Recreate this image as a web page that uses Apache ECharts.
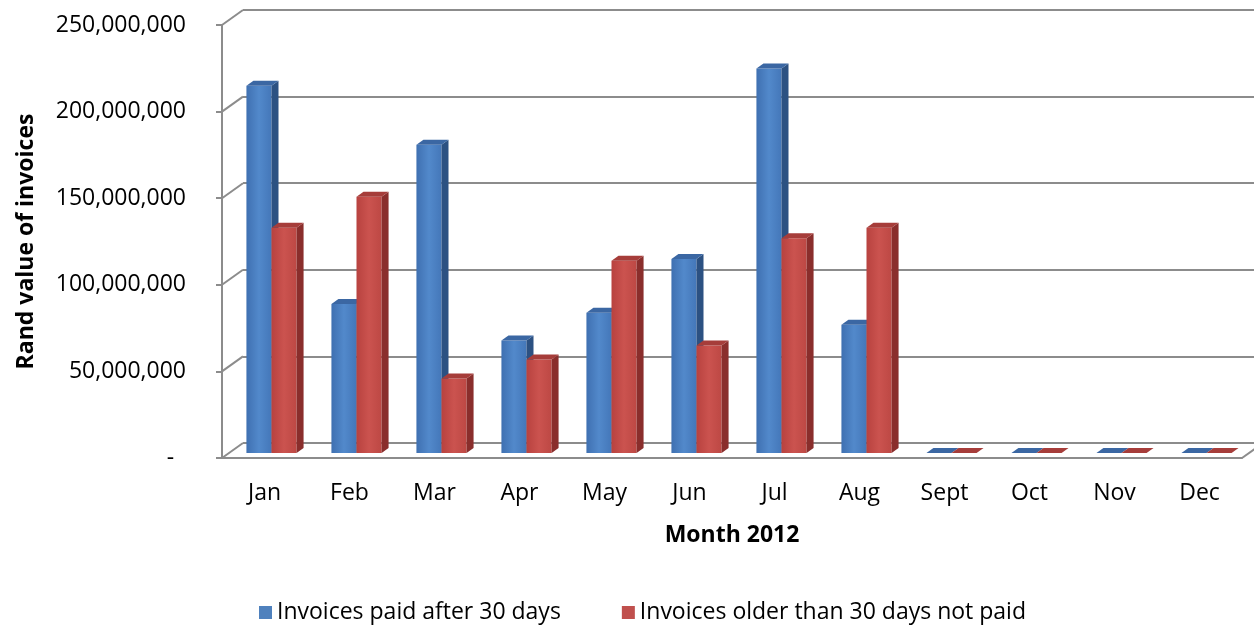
<!DOCTYPE html>
<html>
<head>
<meta charset="utf-8">
<script src="https://cdn.jsdelivr.net/npm/echarts@6/dist/echarts.min.js"></script>
<style>
  html, body { margin: 0; padding: 0; background: #fff; }
  #chart { width: 1254px; height: 628px; }
</style>
</head>
<body>
<div id="chart"></div>
<script>
var months = ['Jan', 'Feb', 'Mar', 'Apr', 'May', 'Jun', 'Jul', 'Aug', 'Sept', 'Oct', 'Nov', 'Dec'];
var paidAfter30 = [212000000, 86000000, 178000000, 65000000, 81000000, 112000000, 222000000, 74000000, 0, 0, 0, 0];
var olderNotPaid = [130000000, 148000000, 43000000, 54000000, 111000000, 62000000, 124000000, 130000000, 0, 0, 0, 0];
var yTicks = [0, 50000000, 100000000, 150000000, 200000000, 250000000];
var seriesNames = ['Invoices paid after 30 days', 'Invoices older than 30 days not paid'];

var font = 'Open Sans';
var gridColor = '#8c8c8c';
// fake 3d: offset of the back wall, and of one bar's depth
var depthX = 21, depthY = -15;
var barDX = 7, barDY = -5;

function fmt(v) {
  if (v === 0) return '-  ';
  return String(v).replace(/\B(?=(\d{3})+(?!\d))/g, ',');
}

// draws one box per month; side 0 = left bar of the pair, 1 = right bar
function boxRenderer(side, front, top, dark) {
  return function (params, api) {
    var cat = api.value(0), val = api.value(1);
    var base = api.coord([cat, 0]);
    var head = api.coord([cat, val]);
    var band = api.size([1, 0])[0];
    var w = band * 0.295;
    var x = base[0] + barDX - (side === 0 ? w : 0);
    var yb = base[1] + barDY, yt = head[1] + barDY;
    return {
      type: 'group',
      children: [
        { type: 'rect', shape: { x: x, y: yt, width: w, height: yb - yt }, style: { fill: front } },
        { type: 'polygon', shape: { points: [[x + w, yt], [x + w + barDX, yt + barDY], [x + w + barDX, yb + barDY], [x + w, yb]] }, style: { fill: dark } },
        { type: 'polygon', shape: { points: [[x, yt], [x + barDX, yt + barDY], [x + w + barDX, yt + barDY], [x + w, yt]] }, style: { fill: top } }
      ]
    };
  };
}

function grad(a, b, c) {
  return new echarts.graphic.LinearGradient(0, 0, 1, 0, [
    { offset: 0, color: a }, { offset: 0.5, color: b }, { offset: 1, color: c }
  ]);
}

var chart = echarts.init(document.getElementById('chart'));
chart.setOption({
  animation: false,
  textStyle: { fontFamily: font },
  legend: {
    data: seriesNames,
    left: 254,
    top: 596,
    icon: 'rect',
    itemWidth: 13,
    itemHeight: 13,
    itemGap: 61,
    textStyle: { fontSize: 23, color: '#000', fontFamily: font }
  },
  grid: [
    { left: 222, top: 25, width: 1020, height: 433 },  // front plane
    { left: 243, top: 10, width: 1011, height: 433 }   // back wall
  ],
  xAxis: [
    {
      type: 'category', gridIndex: 0, data: months, boundaryGap: true,
      axisLine: { lineStyle: { color: gridColor, width: 2 } },
      axisTick: { length: 10, lineStyle: { color: gridColor, width: 2 } },
      axisLabel: { fontSize: 23, color: '#000', margin: 24, interval: 0 },
      name: 'Month 2012', nameLocation: 'middle', nameGap: 66,
      nameTextStyle: { fontSize: 23, fontWeight: 'bold', color: '#000' }
    },
    { type: 'value', gridIndex: 1, show: false, min: 0, max: 1 }
  ],
  yAxis: [
    {
      type: 'value', gridIndex: 0, min: 0, max: 250000000, interval: 50000000,
      axisLine: { show: true, lineStyle: { color: gridColor, width: 2 } },
      axisTick: { show: true, length: 6, lineStyle: { color: gridColor, width: 2 } },
      splitLine: { show: false },
      axisLabel: { fontSize: 23, color: '#000', margin: 36, formatter: fmt },
      name: 'Rand value of invoices', nameLocation: 'middle', nameRotate: 90, nameGap: 184,
      nameTextStyle: { fontSize: 23, fontWeight: 'bold', color: '#000' }
    },
    {
      type: 'value', gridIndex: 1, min: 0, max: 250000000, interval: 50000000,
      axisLine: { show: false }, axisTick: { show: false }, axisLabel: { show: false },
      splitLine: { show: true, lineStyle: { color: gridColor, width: 2 } }
    }
  ],
  series: [
    {
      // side wall lines and the floor's right edge
      type: 'custom', xAxisIndex: 0, yAxisIndex: 0, silent: true, z: 1,
      data: yTicks.map(function (v) { return [0, v]; }),
      renderItem: function (params, api) {
        var p = api.coord([0, api.value(1)]);
        var band = api.size([1, 0])[0];
        var x0 = p[0] - band / 2;
        var ls = { stroke: gridColor, lineWidth: 2 };
        var kids = [{ type: 'line', shape: { x1: x0, y1: p[1], x2: x0 + depthX, y2: p[1] + depthY }, style: ls }];
        if (params.dataIndex === 0) {
          var x1 = x0 + band * months.length;
          kids.push({ type: 'line', shape: { x1: x1, y1: p[1], x2: x1 + depthX, y2: p[1] + depthY }, style: ls });
        }
        return { type: 'group', children: kids };
      }
    },
    {
      name: seriesNames[0], type: 'custom', xAxisIndex: 0, yAxisIndex: 0, z: 3,
      itemStyle: { color: '#4F81BD' },
      data: paidAfter30.map(function (v, i) { return [i, v]; }),
      renderItem: boxRenderer(0, grad('#3f70b1', '#5289cb', '#4477b9'), '#3b67a3', '#2c5182')
    },
    {
      name: seriesNames[1], type: 'custom', xAxisIndex: 0, yAxisIndex: 0, z: 4,
      itemStyle: { color: '#C0504D' },
      data: olderNotPaid.map(function (v, i) { return [i, v]; }),
      renderItem: boxRenderer(1, grad('#b8423f', '#cb534f', '#bd4844'), '#a63d3a', '#8a2e2c')
    }
  ]
});
</script>
</body>
</html>
